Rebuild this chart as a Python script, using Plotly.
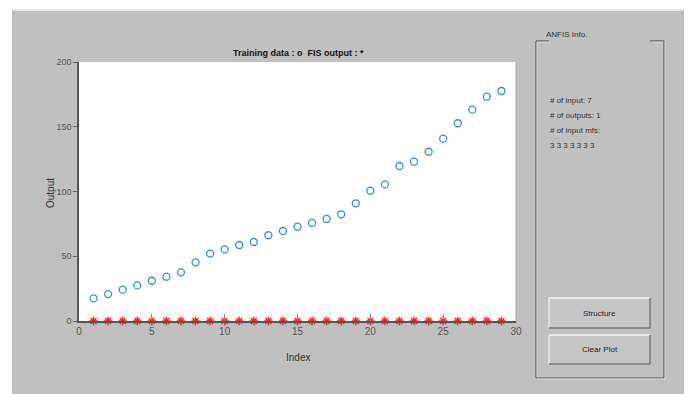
import plotly.graph_objects as go

index = list(range(1, 30))
training_output = [17.5, 20.8, 24.2, 27.5, 31.1, 34.2, 37.6, 45.3, 52.0, 55.3,
                   58.7, 61.0, 66.2, 69.5, 72.8, 75.7, 78.8, 82.4, 90.9, 100.6,
                   105.5, 119.7, 123.0, 130.7, 140.8, 152.7, 163.2, 173.2, 177.6]
fis_output = [0] * 29
x_ticks = [0, 5, 10, 15, 20, 25, 30]
y_ticks = [0, 50, 100, 150, 200]
info_lines = ["# of input: 7", "# of outputs: 1", "# of input mfs:", "3 3 3 3 3 3 3"]

W, H = 688, 394
L, R, T, B = 79, 516, 62, 321
FONT = "Liberation Sans Narrow, Liberation Sans, Arial, sans-serif"

def px(x):
    return (x - L) / (R - L)

def py(y):
    return (B - y) / (B - T)

fig = go.Figure()
fig.add_trace(go.Scatter(x=index, y=training_output, mode="markers",
                         marker=dict(symbol="circle-open", size=7, color="#2e8fd8",
                                     line=dict(width=1.3)),
                         showlegend=False, cliponaxis=False))
fig.add_trace(go.Scatter(x=index, y=fis_output, mode="markers",
                         marker=dict(symbol="asterisk-open", size=7, color="#ff2020",
                                     line=dict(width=1.5, color="#ff2020")),
                         showlegend=False, cliponaxis=False))

shapes = []
shapes.append(dict(type="rect", xref="paper", yref="paper", x0=px(12), x1=px(684), y0=py(394), y1=py(9),
                   fillcolor="#c0c0c0", line=dict(width=0), layer="below"))
shapes.append(dict(type="line", xref="paper", yref="paper", x0=px(12), x1=px(684), y0=py(10), y1=py(10),
                   line=dict(color="#e4e4e4", width=2), layer="below"))
shapes.append(dict(type="rect", xref="paper", yref="paper", x0=0, x1=1, y0=0, y1=1,
                   fillcolor="white", line=dict(width=0), layer="below"))
shapes.append(dict(type="line", xref="paper", yref="paper", x0=1, x1=1, y0=0, y1=1,
                   line=dict(color="#a8a8a8", width=1)))

fc = "#555555"
frame = [((536, 41), (549, 41)), ((650, 41), (664, 41)), ((536, 41), (536, 378)),
         ((664, 41), (664, 378)), ((536, 378), (664, 378))]
for (a, b) in frame:
    shapes.append(dict(type="line", xref="paper", yref="paper", x0=px(a[0]), y0=py(a[1]),
                       x1=px(b[0]), y1=py(b[1]), line=dict(color=fc, width=1.2)))
    shapes.append(dict(type="line", xref="paper", yref="paper", x0=px(a[0] + 1), y0=py(a[1] + 1),
                       x1=px(b[0] + 1), y1=py(b[1] + 1), line=dict(color="#e0e0e0", width=0.8)))

for (y0, y1) in [(298, 328), (335, 364)]:
    shapes.append(dict(type="rect", xref="paper", yref="paper", x0=px(549), x1=px(650),
                       y0=py(y1), y1=py(y0), fillcolor="#c6c6c6", line=dict(width=0)))
    shapes.append(dict(type="line", xref="paper", yref="paper", x0=px(549), x1=px(650),
                       y0=py(y0), y1=py(y0), line=dict(color="#f4f4f4", width=1.5)))
    shapes.append(dict(type="line", xref="paper", yref="paper", x0=px(549), x1=px(549),
                       y0=py(y0), y1=py(y1), line=dict(color="#f0f0f0", width=1.2)))
    shapes.append(dict(type="line", xref="paper", yref="paper", x0=px(549), x1=px(650),
                       y0=py(y1), y1=py(y1), line=dict(color="#7a7a7a", width=1.5)))
    shapes.append(dict(type="line", xref="paper", yref="paper", x0=px(650), x1=px(650),
                       y0=py(y0), y1=py(y1), line=dict(color="#7a7a7a", width=1.5)))

annotations = []
def text(x, y, s, size=10, bold=False, xanchor="center", color="#222222", angle=0):
    annotations.append(dict(x=px(x), y=py(y), xref="paper", yref="paper", text=("<b>%s</b>" % s) if bold else s,
                            showarrow=False, xanchor=xanchor, yanchor="middle", textangle=angle,
                            font=dict(family=FONT, size=size, color=color)))

text(298, 53, "Training data : o  FIS output : *", size=9, bold=True, color="#111111")
text(298, 357, "Index", size=10, color="#333333")
text(50, 193, "Output", size=10, color="#333333", angle=-90)
text(566, 34, "ANFIS Info.", size=8, color="#333333")
for i, s in enumerate(info_lines):
    text(548, 100 + 15.3 * i, s, size=8, xanchor="left", color="#333333")
text(599.5, 313, "Structure", size=8, color="#222222")
text(599.5, 349.5, "Clear Plot", size=8, color="#222222")

fig.update_layout(
    width=W, height=H,
    margin=dict(l=L, r=W - R, t=T, b=H - B, pad=0),
    paper_bgcolor="white", plot_bgcolor="rgba(0,0,0,0)",
    shapes=shapes, annotations=annotations,
    xaxis=dict(range=[0, 30], tickvals=x_ticks, ticks="inside", ticklen=7, tickcolor="#888888",
               showgrid=False, zeroline=False, showline=True, linecolor="#555555", linewidth=1.5,
               tickfont=dict(family=FONT, size=10, color="#555555")),
    yaxis=dict(range=[0, 200], tickvals=y_ticks, ticks="outside", ticklen=4, tickcolor="#666666",
               showgrid=False, zeroline=False, showline=True, linecolor="#555555", linewidth=1.5,
               tickfont=dict(family=FONT, size=9, color="#555555")),
)
fig.write_html("out.html", config={"displayModeBar": False},
               post_script="document.body.style.margin='0';document.body.style.overflow='hidden';")
